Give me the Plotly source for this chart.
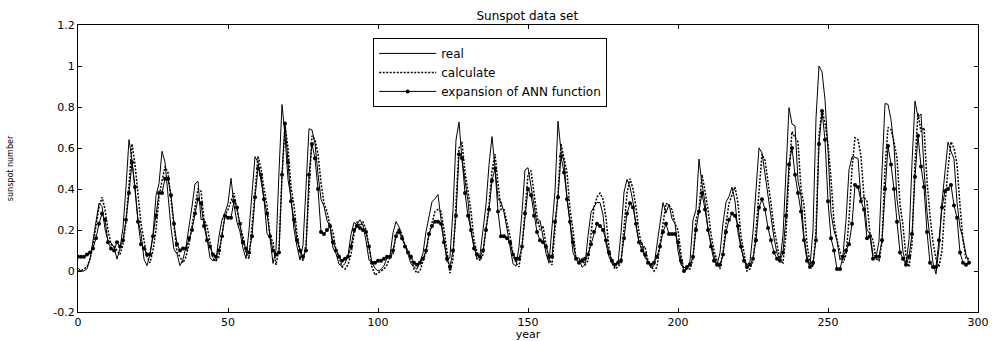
import plotly.graph_objects as go

# year index 0..297 (1710..2007)
real = [
    0.016, 0.0, 0.0, 0.011, 0.058, 0.142, 0.247, 0.331, 0.315, 0.205,
    0.147, 0.137, 0.116, 0.058, 0.110, 0.210, 0.410, 0.641, 0.542, 0.384,
    0.247, 0.184, 0.058, 0.026, 0.084, 0.179, 0.368, 0.426, 0.584, 0.531,
    0.384, 0.210, 0.105, 0.084, 0.026, 0.058, 0.116, 0.210, 0.315, 0.425,
    0.438, 0.251, 0.251, 0.161, 0.064, 0.050, 0.054, 0.170, 0.250, 0.284,
    0.331, 0.452, 0.322, 0.237, 0.191, 0.110, 0.060, 0.199, 0.367, 0.558,
    0.530, 0.429, 0.350, 0.183, 0.161, 0.037, 0.104, 0.486, 0.812, 0.662,
    0.446, 0.358, 0.202, 0.120, 0.054, 0.127, 0.436, 0.694, 0.688, 0.621,
    0.473, 0.350, 0.315, 0.247, 0.216, 0.112, 0.084, 0.034, 0.022, 0.036,
    0.076, 0.179, 0.237, 0.227, 0.250, 0.222, 0.148, 0.053, 0.043, 0.013,
    0.0, 0.007, 0.026, 0.064, 0.073, 0.186, 0.241, 0.216, 0.158, 0.126,
    0.082, 0.035, 0.021, 0.009, 0.045, 0.087, 0.191, 0.261, 0.338, 0.352,
    0.373, 0.251, 0.145, 0.045, 0.069, 0.299, 0.639, 0.727, 0.543, 0.451,
    0.340, 0.193, 0.127, 0.056, 0.079, 0.211, 0.323, 0.518, 0.656, 0.506,
    0.350, 0.339, 0.284, 0.205, 0.108, 0.035, 0.023, 0.119, 0.288, 0.493,
    0.504, 0.406, 0.311, 0.231, 0.247, 0.160, 0.086, 0.038, 0.198, 0.389,
    0.731, 0.585, 0.534, 0.348, 0.235, 0.089, 0.059, 0.065, 0.018, 0.032,
    0.170, 0.285, 0.314, 0.335, 0.334, 0.274, 0.134, 0.069, 0.036, 0.033,
    0.037, 0.187, 0.384, 0.447, 0.410, 0.336, 0.220, 0.138, 0.140, 0.064,
    0.050, 0.014, 0.026, 0.128, 0.221, 0.334, 0.283, 0.326, 0.255, 0.231,
    0.098, 0.030, 0.019, 0.007, 0.050, 0.249, 0.300, 0.546, 0.424, 0.334,
    0.198, 0.137, 0.075, 0.030, 0.088, 0.233, 0.336, 0.363, 0.409, 0.341,
    0.188, 0.111, 0.058, 0.030, 0.046, 0.190, 0.419, 0.601, 0.576, 0.467,
    0.356, 0.250, 0.161, 0.086, 0.050, 0.175, 0.487, 0.797, 0.717, 0.708,
    0.441, 0.365, 0.166, 0.073, 0.023, 0.200, 0.745, 1.000, 0.972, 0.836,
    0.590, 0.283, 0.197, 0.147, 0.054, 0.079, 0.247, 0.493, 0.557, 0.555,
    0.549, 0.350, 0.362, 0.200, 0.181, 0.081, 0.066, 0.145, 0.486, 0.817,
    0.813, 0.738, 0.609, 0.350, 0.241, 0.094, 0.030, 0.154, 0.527, 0.829,
    0.750, 0.766, 0.496, 0.287, 0.157, 0.040, -0.015, 0.113, 0.338, 0.491,
    0.629, 0.584, 0.547, 0.335, 0.212, 0.157, 0.080, 0.039,
]

calculate = [
    0.00, 0.00, 0.01, 0.02, 0.06, 0.12, 0.22, 0.31, 0.36, 0.30,
    0.20, 0.13, 0.12, 0.10, 0.08, 0.13, 0.24, 0.42, 0.62, 0.52,
    0.37, 0.23, 0.15, 0.07, 0.04, 0.10, 0.20, 0.36, 0.44, 0.51,
    0.48, 0.35, 0.20, 0.09, 0.07, 0.04, 0.07, 0.13, 0.22, 0.32,
    0.40, 0.39, 0.25, 0.22, 0.14, 0.06, 0.05, 0.07, 0.18, 0.27,
    0.30, 0.34, 0.38, 0.30, 0.22, 0.17, 0.09, 0.06, 0.21, 0.38,
    0.56, 0.50, 0.40, 0.32, 0.17, 0.14, 0.03, 0.11, 0.46, 0.71,
    0.60, 0.41, 0.32, 0.18, 0.10, 0.05, 0.13, 0.42, 0.66, 0.64,
    0.57, 0.43, 0.33, 0.29, 0.22, 0.19, 0.10, 0.07, 0.02, 0.01,
    0.03, 0.08, 0.18, 0.24, 0.22, 0.24, 0.20, 0.12, 0.02, -0.02,
    -0.01, 0.00, 0.01, 0.03, 0.07, 0.08, 0.18, 0.21, 0.18, 0.12,
    0.10, 0.06, 0.01, -0.01, 0.00, 0.05, 0.09, 0.18, 0.24, 0.29,
    0.30, 0.29, 0.20, 0.10, -0.01, 0.06, 0.31, 0.60, 0.63, 0.48,
    0.39, 0.29, 0.15, 0.09, 0.05, 0.08, 0.21, 0.32, 0.49, 0.57,
    0.43, 0.30, 0.30, 0.24, 0.17, 0.08, 0.04, 0.02, 0.12, 0.29,
    0.47, 0.49, 0.37, 0.27, 0.20, 0.22, 0.13, 0.06, 0.03, 0.21,
    0.38, 0.62, 0.55, 0.48, 0.30, 0.20, 0.06, 0.05, 0.06, 0.03,
    0.05, 0.19, 0.31, 0.36, 0.38, 0.35, 0.26, 0.11, 0.04, 0.01,
    0.02, 0.04, 0.21, 0.38, 0.45, 0.40, 0.31, 0.19, 0.11, 0.12,
    0.05, 0.03, 0.00, 0.02, 0.13, 0.23, 0.33, 0.32, 0.30, 0.23,
    0.20, 0.08, 0.00, 0.01, 0.01, 0.06, 0.25, 0.30, 0.47, 0.39,
    0.30, 0.18, 0.10, 0.05, 0.01, 0.09, 0.23, 0.33, 0.37, 0.41,
    0.33, 0.17, 0.09, 0.00, 0.01, 0.05, 0.20, 0.41, 0.57, 0.54,
    0.44, 0.33, 0.21, 0.12, 0.05, 0.04, 0.18, 0.48, 0.68, 0.65,
    0.63, 0.40, 0.32, 0.13, 0.04, 0.02, 0.20, 0.66, 0.79, 0.72,
    0.62, 0.45, 0.24, 0.15, 0.10, 0.04, 0.08, 0.25, 0.50, 0.65,
    0.64, 0.56, 0.36, 0.34, 0.18, 0.15, 0.06, 0.05, 0.14, 0.50,
    0.70, 0.69, 0.63, 0.55, 0.33, 0.22, 0.07, 0.02, 0.13, 0.53,
    0.77, 0.68, 0.70, 0.44, 0.27, 0.14, 0.06, 0.02, 0.10, 0.33,
    0.50, 0.63, 0.60, 0.52, 0.32, 0.15, 0.06, 0.06,
]

expansion = [
    0.07, 0.07, 0.07, 0.08, 0.09, 0.11, 0.16, 0.23, 0.28, 0.25,
    0.14, 0.11, 0.10, 0.14, 0.12, 0.15, 0.25, 0.38, 0.53, 0.41,
    0.24, 0.13, 0.11, 0.08, 0.08, 0.17, 0.27, 0.38, 0.38, 0.45,
    0.45, 0.37, 0.23, 0.13, 0.10, 0.11, 0.11, 0.16, 0.20, 0.28,
    0.35, 0.33, 0.22, 0.15, 0.12, 0.08, 0.07, 0.10, 0.17, 0.27,
    0.26, 0.26, 0.34, 0.31, 0.23, 0.14, 0.11, 0.09, 0.17, 0.36,
    0.50, 0.47, 0.35, 0.28, 0.17, 0.10, 0.08, 0.09, 0.47, 0.72,
    0.53, 0.34, 0.25, 0.15, 0.10, 0.07, 0.10, 0.47, 0.62, 0.55,
    0.40, 0.19, 0.18, 0.20, 0.22, 0.14, 0.10, 0.07, 0.05, 0.06,
    0.07, 0.12, 0.20, 0.22, 0.21, 0.20, 0.19, 0.12, 0.04, 0.04,
    0.05, 0.05, 0.06, 0.07, 0.07, 0.10, 0.17, 0.19, 0.16, 0.12,
    0.09, 0.07, 0.04, 0.03, 0.04, 0.06, 0.10, 0.18, 0.22, 0.24,
    0.24, 0.23, 0.14, 0.06, 0.02, 0.10, 0.27, 0.57, 0.55, 0.38,
    0.27, 0.20, 0.11, 0.08, 0.07, 0.10, 0.20, 0.30, 0.44, 0.50,
    0.29, 0.17, 0.17, 0.16, 0.14, 0.08, 0.06, 0.06, 0.12, 0.28,
    0.40, 0.37, 0.27, 0.19, 0.15, 0.14, 0.12, 0.07, 0.07, 0.24,
    0.36, 0.56, 0.48, 0.35, 0.24, 0.14, 0.06, 0.04, 0.05, 0.06,
    0.08, 0.13, 0.19, 0.23, 0.22, 0.20, 0.15, 0.09, 0.05, 0.03,
    0.04, 0.05, 0.16, 0.28, 0.33, 0.31, 0.23, 0.14, 0.10, 0.08,
    0.04, 0.03, 0.04, 0.07, 0.12, 0.19, 0.23, 0.18, 0.18, 0.18,
    0.14, 0.05, 0.00, 0.02, 0.03, 0.07, 0.20, 0.29, 0.38, 0.30,
    0.20, 0.12, 0.05, 0.03, 0.03, 0.08, 0.19, 0.25, 0.28, 0.27,
    0.22, 0.12, 0.05, 0.02, 0.03, 0.06, 0.15, 0.31, 0.35, 0.30,
    0.21, 0.15, 0.09, 0.06, 0.05, 0.09, 0.27, 0.52, 0.60, 0.47,
    0.38, 0.29, 0.15, 0.05, 0.02, 0.04, 0.15, 0.62, 0.78, 0.64,
    0.34, 0.16, 0.10, 0.01, 0.01, 0.07, 0.10, 0.13, 0.23, 0.42,
    0.41, 0.34, 0.30, 0.16, 0.17, 0.06, 0.07, 0.07, 0.15, 0.40,
    0.61, 0.52, 0.40, 0.24, 0.09, 0.06, 0.03, 0.07, 0.18, 0.46,
    0.66, 0.51, 0.41, 0.19, 0.04, 0.02, 0.02, 0.15, 0.31, 0.39,
    0.40, 0.42, 0.32, 0.26, 0.09, 0.04, 0.03, 0.04,
]

years = list(range(len(real)))

x_ticks = [0, 50, 100, 150, 200, 250, 300]
y_ticks = [-0.2, 0, 0.2, 0.4, 0.6, 0.8, 1.0, 1.2]
y_tick_labels = ["-0.2", "0", "0.2", "0.4", "0.6", "0.8", "1", "1.2"]

FONT = "DejaVu Sans, Arial, sans-serif"

fig = go.Figure()
fig.add_trace(go.Scatter(x=years, y=real, mode="lines", name="real",
                         line=dict(color="black", width=1)))
fig.add_trace(go.Scatter(x=years, y=calculate, mode="lines", name="calculate",
                         line=dict(color="black", width=1.5, dash="2px,1.5px")))
fig.add_trace(go.Scatter(x=years, y=expansion, mode="lines+markers",
                         name="expansion of ANN function",
                         line=dict(color="black", width=1),
                         marker=dict(color="black", size=4, symbol="circle")))

axis_common = dict(showgrid=False, zeroline=False, showline=True, linecolor="black",
                   linewidth=1, mirror="ticks", ticks="inside", ticklen=4,
                   tickcolor="black", automargin=False,
                   tickfont=dict(family=FONT, size=11, color="black"))

fig.update_layout(
    width=993, height=341,
    margin=dict(l=78, r=15, t=25, b=29),
    paper_bgcolor="white", plot_bgcolor="white",
    font=dict(family=FONT, color="black"),
    title=dict(text="Sunspot data set", x=0.531, xanchor="center",
               y=0.955, yanchor="middle", font=dict(family=FONT, size=12)),
    xaxis=dict(range=[0, 300], tickvals=x_ticks,
               title=dict(text="year", standoff=1, font=dict(family=FONT, size=11)),
               **axis_common),
    yaxis=dict(range=[-0.2, 1.2], tickvals=y_ticks, ticktext=y_tick_labels,
               title=dict(text="sunspot number", standoff=38,
                          font=dict(family=FONT, size=8)),
               **axis_common),
    legend=dict(x=0.328, y=0.955, xanchor="left", yanchor="top",
                bgcolor="white", bordercolor="black", borderwidth=1,
                font=dict(family=FONT, size=12), tracegroupgap=0,
                itemwidth=57),
    showlegend=True,
)

fig.write_html("out.html")
